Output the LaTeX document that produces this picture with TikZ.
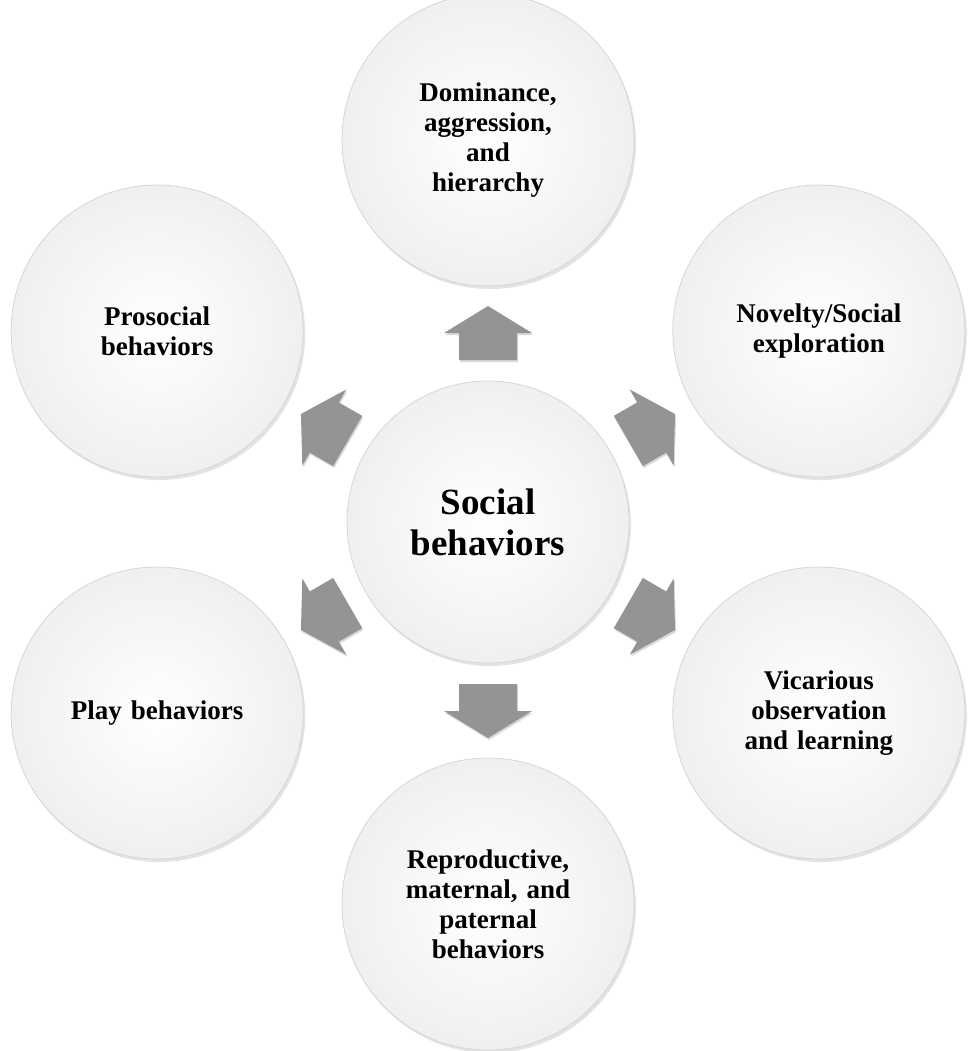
\documentclass[tikz,border=0pt]{standalone}
\usepackage{fontspec}
\setmainfont{Liberation Serif}
\usetikzlibrary{shadows,calc}
\begin{document}
\begin{tikzpicture}[x=1pt,y=1pt,
  bub/.style={circle,draw=black!16,line width=0.8pt,inner color=white,outer color=black!6,
    drop shadow={shadow xshift=2pt,shadow yshift=-3pt,fill=black!22,opacity=0.5},
    align=center,font=\bfseries\fontsize{27}{30}\selectfont,text width=200pt},
  arr/.style={fill=black!42,draw=none,drop shadow={shadow xshift=1pt,shadow yshift=-2pt,opacity=0.3}}]
\useasboundingbox (0,0) rectangle (975,-1051);
\coordinate (c) at (488,-522);
\node[bub,minimum size=282pt,font=\bfseries\fontsize{37}{41}\selectfont] (center) at (c) {Social\\behaviors};
\foreach \a/\n/\t in {90/top/{Dominance,\\aggression,\\and\\hierarchy},30/rt/{Novelty/Social\\exploration},150/lt/{Prosocial\\behaviors},210/lb/{Play behaviors},270/bot/{Reproductive,\\maternal, and\\paternal\\behaviors},330/rb/{Vicarious\\observation\\and learning}}{
  \node[bub,minimum size=292pt] (\n) at ($(c)+(\a:382)$) {\t};
  \begin{scope}[shift={($(c)+(\a:189)$)},rotate=\a]
    \fill[arr] (-27,-29) -- (0,-29) -- (0,-44) -- (27,0) -- (0,44) -- (0,29) -- (-27,29) -- cycle;
  \end{scope}
}
\end{tikzpicture}
\end{document}
